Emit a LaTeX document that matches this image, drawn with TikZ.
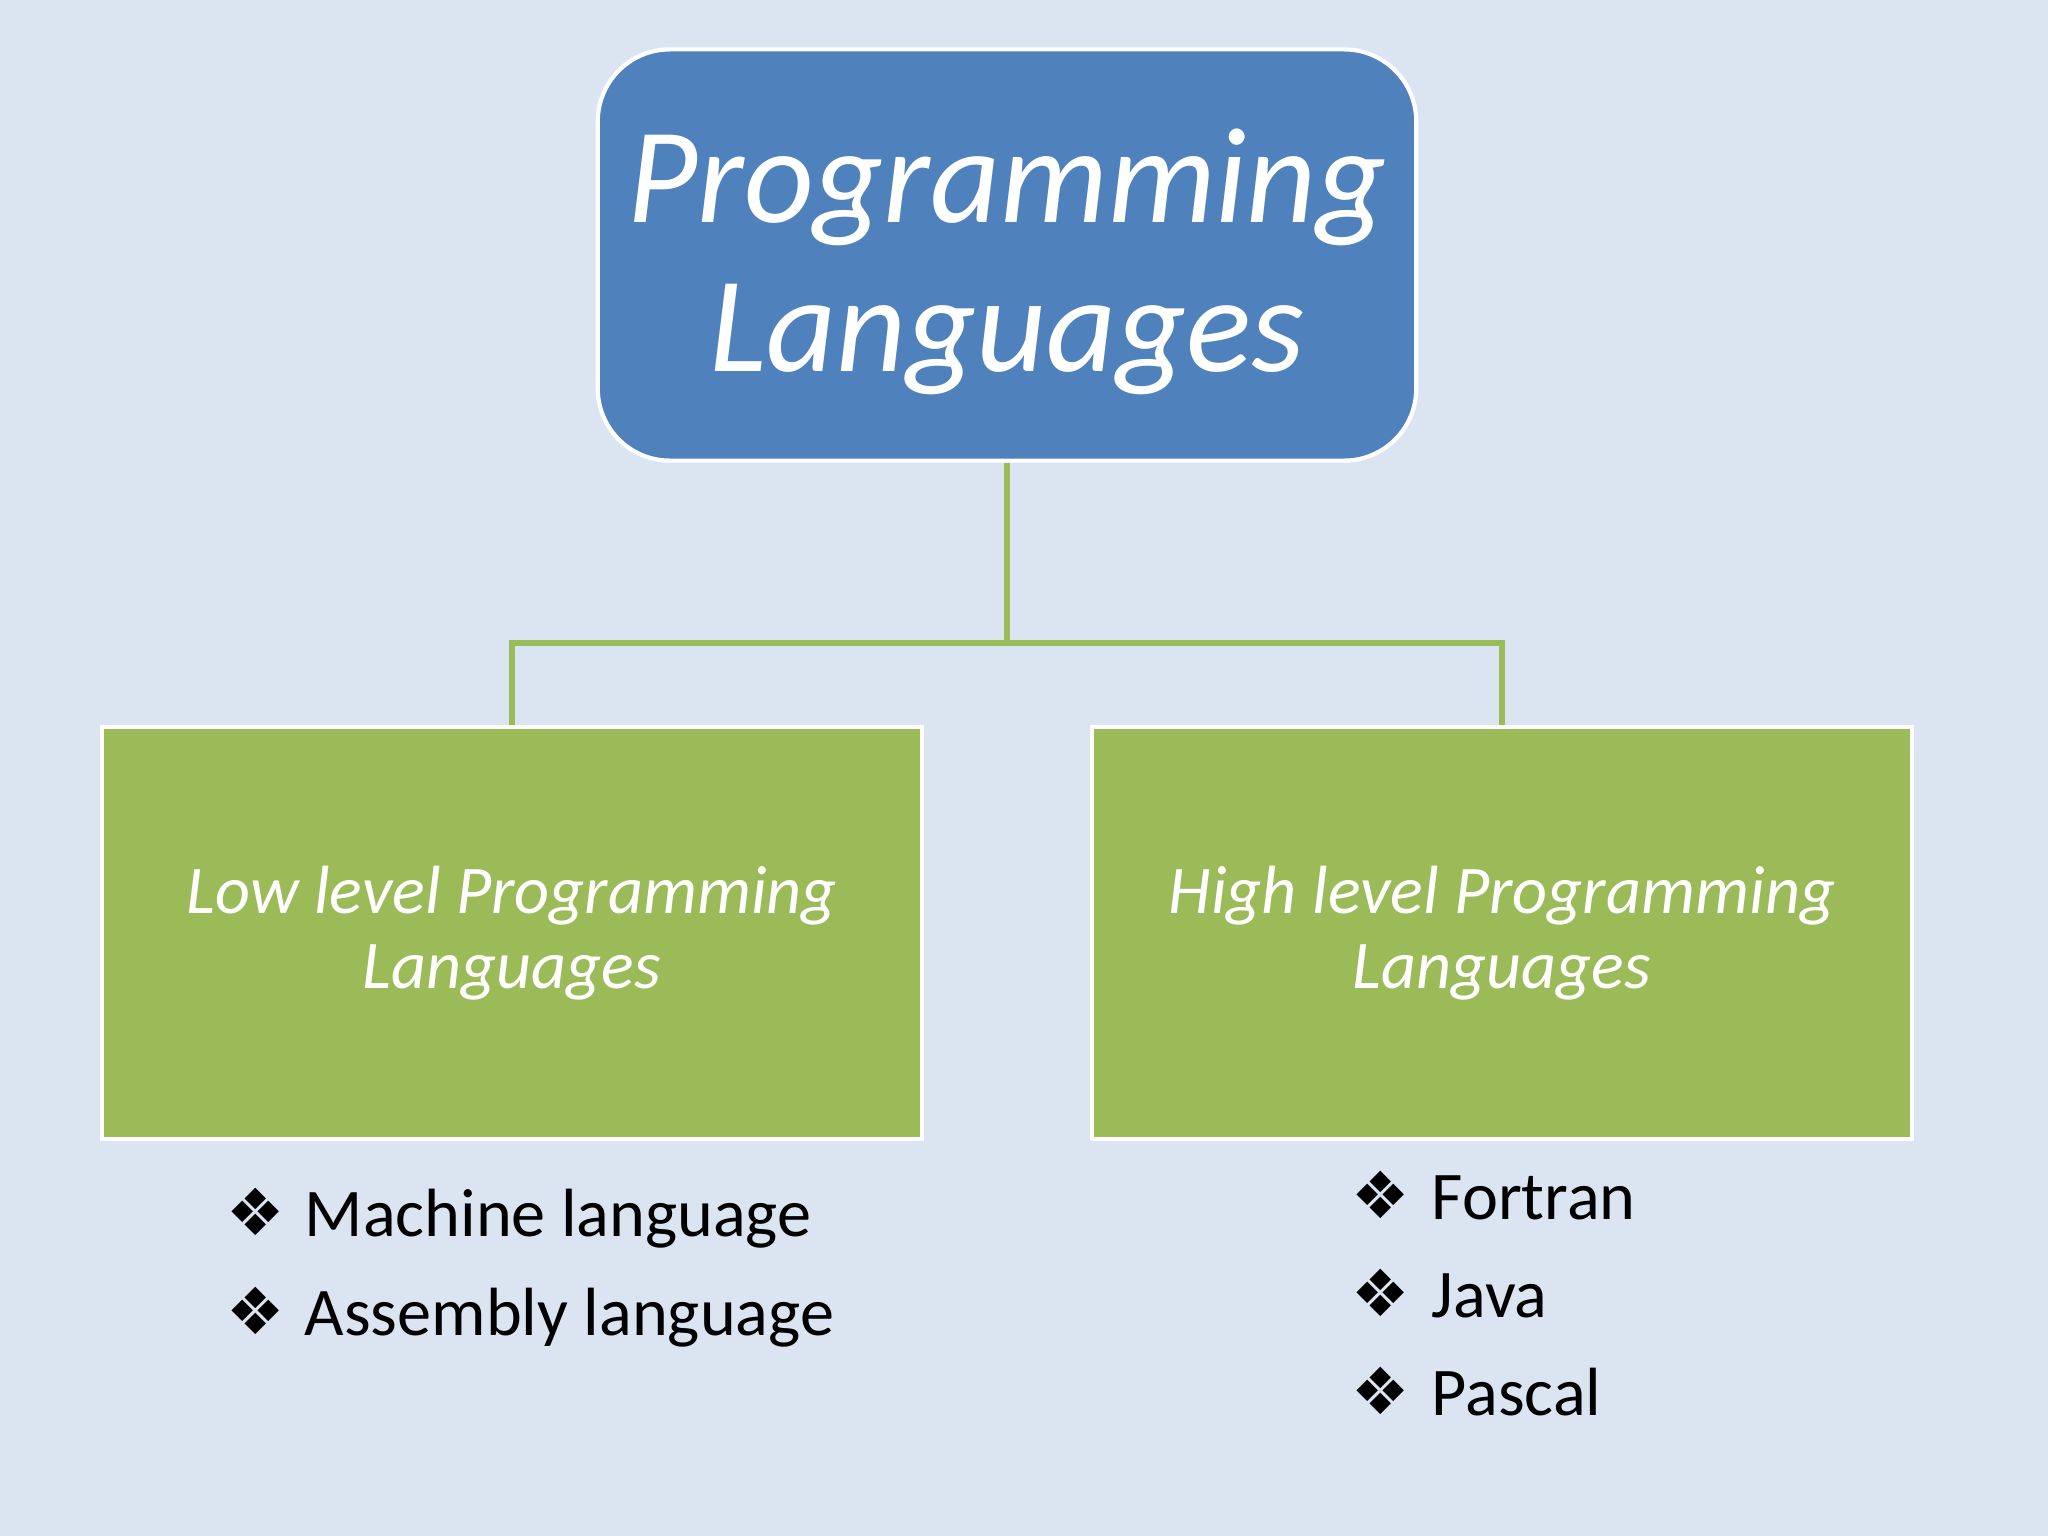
\documentclass[tikz,border=0pt]{standalone}
\usepackage{fontspec}
\setmainfont{Carlito}
\newfontfamily\symfont{DejaVu Sans}
\definecolor{bg}{RGB}{219,229,242}
\definecolor{blu}{RGB}{79,129,189}
\definecolor{grn}{RGB}{155,187,89}
\begin{document}
\begin{tikzpicture}[x=0.01cm,y=-0.01cm]
\fill[bg] (0,0) rectangle (2048,1536);
\useasboundingbox (0,0) rectangle (2048,1536);
\tikzset{
 topbox/.style={draw=white, line width=1.2pt, fill=blu, rounded corners=0.72cm, minimum width=8.18cm, minimum height=4.11cm, inner sep=0},
 toptext/.style={align=center, text=white, font=\fontsize{38.7}{42.2}\selectfont\itshape, inner sep=0},
 grnbox/.style={draw=white, line width=1.2pt, fill=grn, minimum width=8.2cm, minimum height=4.12cm, align=center, text=white, font=\fontsize{19.4}{21.2}\selectfont\itshape, inner sep=0},
 link/.style={draw=grn, line width=1.5pt},
 item/.style={anchor=base west, font=\fontsize{19.4}{25}\selectfont, inner sep=0},
 bul/.style={font=\symfont\fontsize{18.5}{18.5}\selectfont, inner sep=0},
}
\node[topbox] (top) at (1007,255) {};
\node[toptext] (toptxt) at (1007,262) {Programming\\Languages};
\node[grnbox] (low) at (512,933) {Low level Programming\\Languages};
\node[grnbox] (high) at (1502,933) {High level Programming\\Languages};
\coordinate (j) at (1007,643);
\draw[link] (top.south) -- (j);
\draw[link] (low.north) |- (j) -| (high.north);

\node[bul] (b1) at (256,1212) {❖};
\node[item] (t1) at (304,1236) {Machine language};
\node[bul] (b2) at (256,1311) {❖};
\node[item] (t2) at (304,1335) {Assembly language};
\node[bul] (b3) at (1381,1195) {❖};
\node[item] (t3) at (1431,1219) {Fortran};
\node[bul] (b4) at (1381,1293) {❖};
\node[item] (t4) at (1431,1317) {Java};
\node[bul] (b5) at (1381,1391) {❖};
\node[item] (t5) at (1431,1415) {Pascal};
\end{tikzpicture}
\end{document}
